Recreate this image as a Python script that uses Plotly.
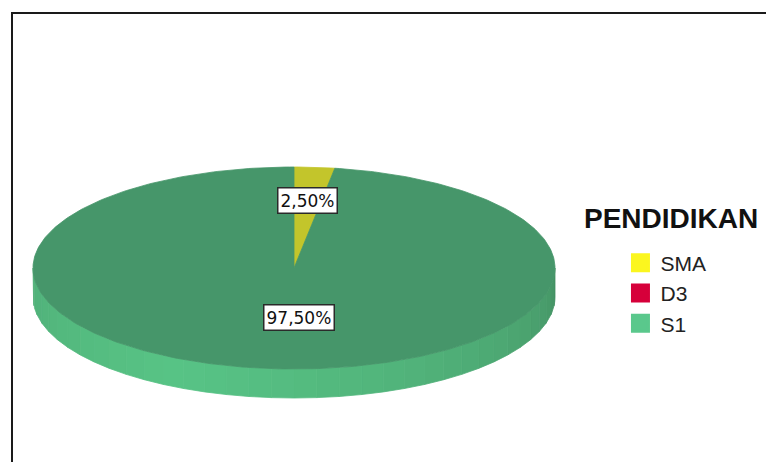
import numpy as np
import plotly.graph_objects as go

# ---- data ----
categories = ["SMA", "D3", "S1"]
values = [2.5, 0.0, 97.5]
value_labels = ["2,50%", "0,00%", "97,50%"]
legend_title = "PENDIDIKAN"

# ---- styles ----
top_colors = ["#c3c52b", "#c8003a", "#46966a"]
legend_colors = ["#fbf61f", "#d6003a", "#5ac88c"]
side_dark = np.array([66, 140, 96])
side_light = np.array([88, 196, 134])

W, H = 766, 462
cx, cy, rx, ry, depth = 294, 268, 261, 101, 29

def pt(theta_deg, f=1.0, dy=0.0):
    t = np.radians(theta_deg)
    return cx + rx * f * np.sin(t), cy - ry * f * np.cos(t) + dy

fig = go.Figure()

total = sum(values)
starts, ends = [], []
acc = 0.0
for v in values:
    a0 = acc / total * 360.0
    acc += v
    a1 = acc / total * 360.0
    starts.append(a0)
    ends.append(a1)

# side wall (visible front half: 90..270 deg clockwise from top)
for i, (a0, a1) in enumerate(zip(starts, ends)):
    lo, hi = max(a0, 90.0), min(a1, 270.0)
    if hi <= lo:
        continue
    edges = np.linspace(lo, hi, max(2, int((hi - lo) / 5) + 1))
    for s0, s1 in zip(edges[:-1], edges[1:]):
        arc = np.linspace(s0, s1, 6)
        xs_top, ys_top = pt(arc)
        xs_bot, ys_bot = pt(arc[::-1], dy=depth)
        xs = np.concatenate([xs_top, xs_bot, xs_top[:1]])
        ys = np.concatenate([ys_top, ys_bot, ys_top[:1]])
        mid = (s0 + s1) / 2
        u = (270.0 - mid) / 180.0  # 1 at left, 0 at right
        w = np.clip(1.0 - abs(u - 0.35) / 0.65, 0, 1) ** 0.6
        if i == 2:
            c = side_dark + (side_light - side_dark) * w
        else:
            base = np.array(
                [int(legend_colors[i][k:k + 2], 16) for k in (1, 3, 5)])
            c = base * (0.75 + 0.2 * w)
        col = "rgb(%d,%d,%d)" % tuple(c.astype(int))
        fig.add_trace(go.Scatter(x=xs, y=ys, mode="lines", fill="toself",
                                 fillcolor=col, line=dict(color=col, width=0.8),
                                 hoverinfo="skip", showlegend=False))

# top faces
for i, (a0, a1) in enumerate(zip(starts, ends)):
    if values[i] <= 0:
        continue
    arc = np.linspace(a0, a1, max(3, int(a1 - a0) + 2))
    xa, ya = pt(arc)
    xs = np.concatenate([[cx], xa, [cx]])
    ys = np.concatenate([[cy], ya, [cy]])
    fig.add_trace(go.Scatter(x=xs, y=ys, mode="lines", fill="toself",
                             fillcolor=top_colors[i],
                             line=dict(color=top_colors[i], width=0.8),
                             hoverinfo="text", text=categories[i],
                             showlegend=False))

# value labels
label_f = [0.675, 0.6, 0.49]
label_dx = [0, 0, 15]
for i, (a0, a1) in enumerate(zip(starts, ends)):
    if values[i] <= 0:
        continue
    lx, ly = pt((a0 + a1) / 2, f=label_f[i])
    fig.add_annotation(x=lx + label_dx[i], y=ly, text=value_labels[i],
                       showarrow=False,
                       font=dict(family="DejaVu Sans, Liberation Sans, Arial",
                                 size=17, color="#111"),
                       bgcolor="white", bordercolor="#2a2a2a", borderwidth=1.5,
                       borderpad=2)

# legend entries
for i, c in enumerate(categories):
    fig.add_trace(go.Scatter(x=[None], y=[None], mode="markers", name=c,
                             marker=dict(symbol="square", size=16,
                                         color=legend_colors[i],
                                         line=dict(color=legend_colors[i], width=3))))

fig.add_annotation(x=671, y=218, text="<b>" + legend_title + "</b>",
                   showarrow=False,
                   font=dict(family="Liberation Sans, Arial", size=28,
                             color="#111"),
                   xanchor="center", yanchor="middle")

# outer frame
fig.add_shape(type="rect", x0=12, y0=13, x1=W + 20, y1=H + 20,
              line=dict(color="#1a1a1a", width=2), layer="above")

fig.update_layout(
    width=W, height=H,
    margin=dict(l=0, r=0, t=0, b=0),
    paper_bgcolor="white", plot_bgcolor="white",
    xaxis=dict(range=[0, W], visible=False, fixedrange=True),
    yaxis=dict(range=[H, 0], visible=False, fixedrange=True),
    showlegend=True,
    legend=dict(x=0.81, y=0.475, xanchor="left", yanchor="top",
                font=dict(family="Liberation Sans, Arial", size=21, color="#222"),
                bgcolor="rgba(0,0,0,0)", itemclick=False,
                tracegroupgap=0),
)

fig.write_html("out.html")
